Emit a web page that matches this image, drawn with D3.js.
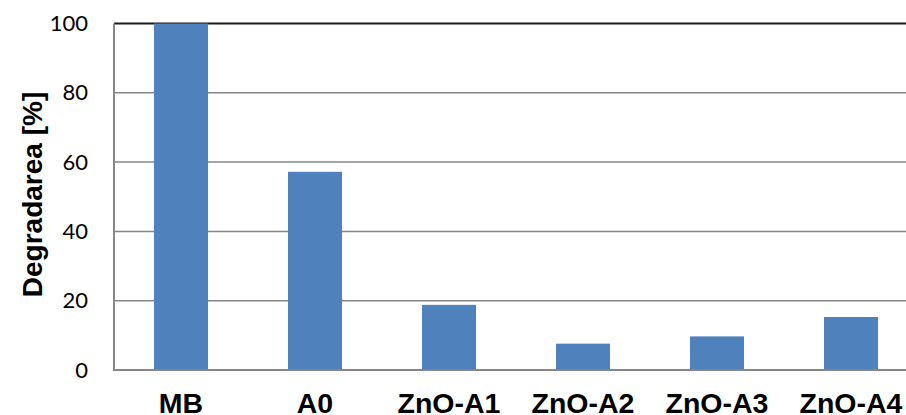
<!DOCTYPE html>
<html><head><meta charset="utf-8">
<script src="https://cdn.jsdelivr.net/npm/d3@7"></script>
<style>body{margin:0;background:#fff;overflow:hidden}</style>
</head><body>
<svg id="c" width="906" height="415"></svg>
<script>
const categories = ["MB","A0","ZnO-A1","ZnO-A2","ZnO-A3","ZnO-A4"];
const values = [100, 57.2, 18.8, 7.6, 9.7, 15.3];
const yTicks = [0,20,40,60,80,100];
const yTitle = "Degradarea [%]";

(function(){
const svg = d3.select("#c");
const mLeft = 114, mTop = 23.5, mBottom = 370, step = 134;
const mRight = mLeft + step*categories.length;
const x = d3.scaleBand().domain(categories).range([mLeft, mRight]).paddingInner(0.597).paddingOuter(0.2985);
const y = d3.scaleLinear().domain([0,100]).range([mBottom, mTop]);

// gridlines
svg.append("g").selectAll("line").data(yTicks.filter(d=>d>0)).join("line")
  .attr("x1", mLeft).attr("x2", mRight)
  .attr("y1", d=>y(d)).attr("y2", d=>y(d))
  .attr("stroke", d=> d===100 ? "#1a1a1a" : "#868686")
  .attr("stroke-width", d=> d===100 ? 2 : 1.5);

// bars
svg.append("g").selectAll("rect").data(values).join("rect")
  .attr("x", (d,i)=>x(categories[i]))
  .attr("width", x.bandwidth())
  .attr("y", d=>y(d))
  .attr("height", d=>y(0)-y(d))
  .attr("fill", "#4f81bd");

// axes lines
svg.append("line").attr("x1", mLeft).attr("x2", mLeft).attr("y1", mTop).attr("y2", mBottom+1)
  .attr("stroke","#868686").attr("stroke-width",2);
svg.append("line").attr("x1", mLeft-1).attr("x2", mRight).attr("y1", mBottom).attr("y2", mBottom)
  .attr("stroke","#868686").attr("stroke-width",2);

// y tick labels
const yAxis = d3.axisLeft(y).tickValues(yTicks).tickSize(0).tickPadding(26);
const gy = svg.append("g").attr("transform", `translate(${mLeft},0)`).call(yAxis);
gy.select(".domain").remove();
gy.selectAll("text").attr("font-family","Lato, 'Open Sans', sans-serif").attr("font-size",22).attr("fill","#000");

// x labels
const xAxis = d3.axisBottom(x).tickSize(0).tickPadding(23);
const gx = svg.append("g").attr("transform", `translate(0,${mBottom})`).call(xAxis);
gx.select(".domain").remove();
gx.selectAll("text").attr("font-family","'Liberation Sans', Arial, sans-serif")
  .attr("font-weight","bold").attr("font-size",28.5).attr("fill","#000");

// y title
svg.append("text").attr("transform", `translate(42,194.5) rotate(-90)`)
  .attr("text-anchor","middle")
  .attr("font-family","'Liberation Sans', Arial, sans-serif")
  .attr("font-weight","bold").attr("font-size",28).text(yTitle);
})();
</script>
</body></html>
